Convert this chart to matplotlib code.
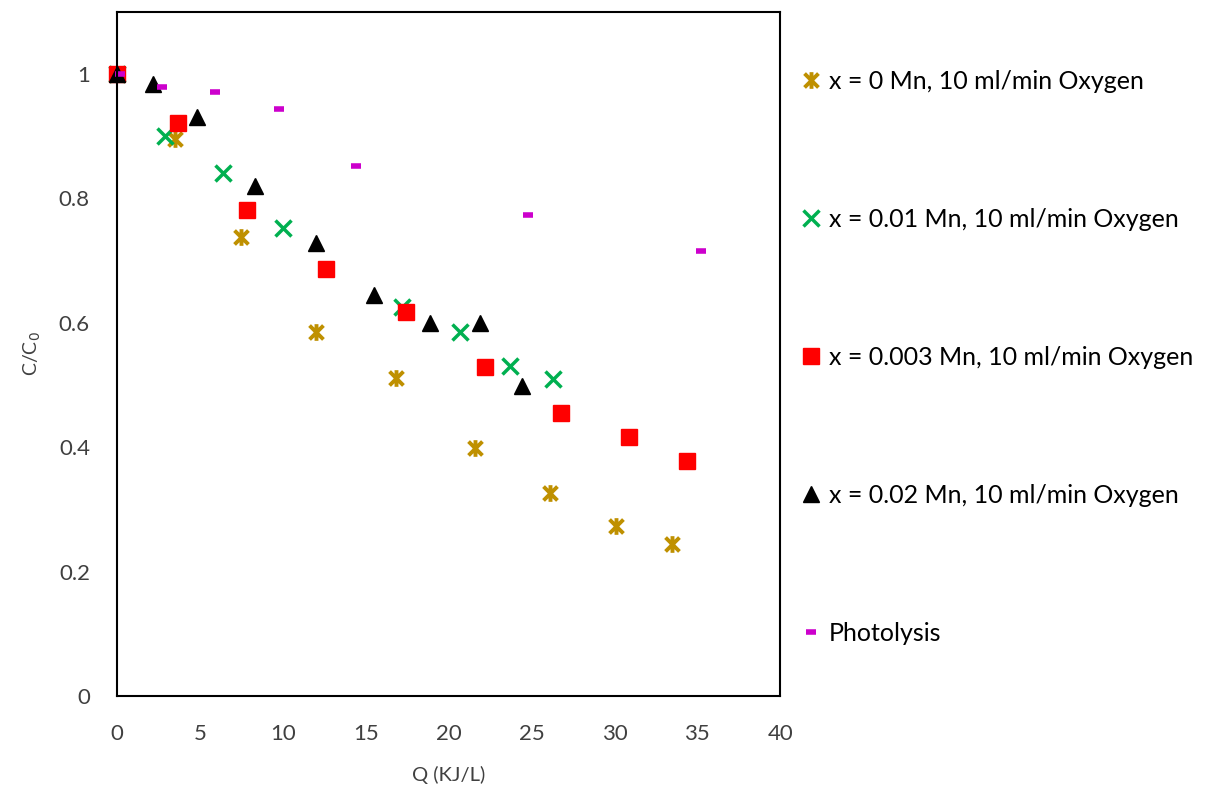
import matplotlib.pyplot as plt
from matplotlib.path import Path

plt.rcParams['font.family'] = ['Lato', 'DejaVu Sans']

# x = 0 Mn
q_0 = [0, 3.5, 7.5, 12.0, 16.8, 21.6, 26.1, 30.1, 33.5]
c_0 = [1.0, 0.895, 0.738, 0.585, 0.511, 0.399, 0.326, 0.273, 0.244]
# x = 0.01 Mn
q_001 = [0, 2.9, 6.4, 10.0, 17.2, 20.7, 23.7, 26.3]
c_001 = [1.0, 0.900, 0.841, 0.752, 0.625, 0.585, 0.531, 0.510]
# x = 0.003 Mn
q_0003 = [0, 3.7, 7.85, 12.6, 17.4, 22.2, 26.8, 30.9, 34.4]
c_0003 = [1.0, 0.921, 0.781, 0.686, 0.617, 0.529, 0.455, 0.416, 0.378]
# x = 0.02 Mn
q_002 = [0, 2.2, 4.8, 8.3, 12.0, 15.5, 18.9, 21.9, 24.4]
c_002 = [1.0, 0.984, 0.931, 0.820, 0.728, 0.645, 0.600, 0.600, 0.498]
# photolysis
q_ph = [0.2, 2.7, 5.9, 9.8, 14.4, 24.8, 35.2]
c_ph = [1.0, 0.979, 0.971, 0.944, 0.852, 0.773, 0.715]

labels = ["x = 0 Mn, 10 ml/min Oxygen", "x = 0.01 Mn, 10 ml/min Oxygen",
          "x = 0.003 Mn, 10 ml/min Oxygen", "x = 0.02 Mn, 10 ml/min Oxygen",
          "Photolysis"]

# excel-style star: an x with a vertical bar through it
star = Path([(-1, -1), (1, 1), (-1, 1), (1, -1), (0, -1.2), (0, 1.2)],
            [Path.MOVETO, Path.LINETO, Path.MOVETO, Path.LINETO, Path.MOVETO, Path.LINETO])

fig = plt.figure(figsize=(12.06, 7.87), dpi=100)
ax = fig.add_axes([0.097, 0.1156, 0.55, 0.8694])

ax.plot(q_0, c_0, ls='none', marker=star, ms=12, mfc='none', mec='#BF9000', mew=2.8, label=labels[0], clip_on=False)
ax.plot(q_001, c_001, ls='none', marker='x', ms=11, mec='#00B050', mew=2.5, label=labels[1], clip_on=False)
ax.plot(q_0003, c_0003, ls='none', marker='s', ms=12, color='#FF0000', label=labels[2], clip_on=False)
ax.plot(q_002, c_002, ls='none', marker='^', ms=11, color='black', label=labels[3], clip_on=False)
ax.plot(q_ph, c_ph, ls='none', marker='_', ms=7, mec='#CC00CC', mew=4, label=labels[4], clip_on=False)

ax.set_xlim(0, 40)
ax.set_ylim(0, 1.1)
ax.set_xticks(range(0, 41, 5))
ax.set_yticks([0, 0.2, 0.4, 0.6, 0.8, 1])
ax.set_yticklabels(['0', '0.2', '0.4', '0.6', '0.8', '1'])
ax.tick_params(length=0, labelsize=16, colors='#404040')
ax.tick_params(axis='y', pad=19.5)
ax.tick_params(axis='x', pad=20)
for s in ax.spines.values():
    s.set_linewidth(1.5)
    s.set_color('black')

ax.set_xlabel("Q (KJ/L)", fontsize=14.5, color='#404040', labelpad=16)
ax.set_ylabel("C/C$_0$", fontsize=14, color='#404040', labelpad=11)

ax.legend(loc='upper left', bbox_to_anchor=(0.658, 0.924), bbox_transform=fig.transFigure,
          frameon=False, fontsize=18, labelspacing=4.6, handlelength=0.6,
          handletextpad=0.4, markerscale=1.0, borderaxespad=0)

fig.savefig("out.png", dpi=100)
